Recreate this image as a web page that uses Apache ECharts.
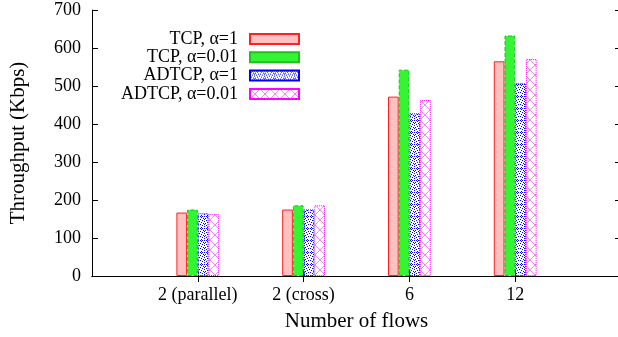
<!DOCTYPE html>
<html>
<head>
<meta charset="utf-8">
<script src="https://cdn.jsdelivr.net/npm/echarts@6/dist/echarts.min.js"></script>
<style>html,body{margin:0;padding:0;background:#fff}#c{width:618px;height:337px}</style>
</head>
<body>
<div id="c"></div>
<script>
var categories = ['2 (parallel)', '2 (cross)', '6', '12'];
var seriesNames = ['TCP, \u03b1=1', 'TCP, \u03b1=0.01', 'ADTCP, \u03b1=1', 'ADTCP, \u03b1=0.01'];
var tcp1 = [167, 175, 472, 565];
var tcp001 = [175, 186, 543, 633];
var adtcp1 = [165, 175, 428, 507];
var adtcp001 = [163, 186, 463, 571];
var yTicks = [0, 100, 200, 300, 400, 500, 600, 700];

var FONT = 'Liberation Serif';

function bluePattern() {
  var c = document.createElement('canvas'); c.width = 10; c.height = 12;
  var g = c.getContext('2d');
  g.fillStyle = '#fff'; g.fillRect(0, 0, 10, 12);
  g.fillStyle = '#0000ff';
  var pts = [[0,0],[2,0],[4,0],[6,0],[8,0],[1,1],[7,1],[3,2],[5,2],[0,3],[8,3],[2,4],[6,4],[4,5],[1,6],[7,6],[3,7],[5,7],[0,8],[8,8],[2,9],[6,9],[4,10],[1,11],[7,11],[4,3],[4,8],[9,5]];
  pts.forEach(function(p){ g.fillRect(p[0], p[1], 1, 1); });
  return c;
}
function magentaPattern() {
  var c = document.createElement('canvas'); c.width = 10; c.height = 10;
  var g = c.getContext('2d');
  g.fillStyle = '#fff'; g.fillRect(0, 0, 10, 10);
  g.strokeStyle = '#ff80ff'; g.lineWidth = 1;
  g.beginPath(); g.moveTo(0, 0); g.lineTo(10, 10); g.moveTo(10, 0); g.lineTo(0, 10); g.stroke();
  return c;
}

var padded = function(arr){ return [null].concat(arr, [null]); };
var axisCats = [''].concat(categories, ['']);
var tickFn = function(i){ return i > 0 && i < axisCats.length - 1; };

var styles = [
  {color: '#ffc0c0', borderColor: '#ff2020', borderWidth: 1, borderType: 'solid'},
  {color: '#33f533', borderColor: '#20c020', borderWidth: 1, borderType: 'dashed'},
  {color: {image: bluePattern(), repeat: 'repeat'}, borderColor: '#0000ff', borderWidth: 1, borderType: 'dotted'},
  {color: {image: magentaPattern(), repeat: 'repeat'}, borderColor: '#ff00ff', borderWidth: 1, borderType: 'dotted'}
];
var datasets = [tcp1, tcp001, adtcp1, adtcp001];

var chart = echarts.init(document.getElementById('c'), null, {renderer: 'canvas'});
chart.setOption({
  animation: false,
  grid: {left: 92, width: 529, top: 10, height: 266, containLabel: false, outerBoundsMode: 'none'},
  legend: {
    orient: 'vertical', align: 'right', left: 'auto', right: 318, top: 30, itemGap: 0.3, padding: 0,
    itemWidth: 49, itemHeight: 10, icon: 'rect',
    textStyle: {fontFamily: FONT, fontSize: 18, color: '#000', padding: [0, 7, 0, 0]},
    data: seriesNames
  },
  xAxis: [{
    type: 'category', data: axisCats, boundaryGap: false,
    axisLine: {lineStyle: {color: '#000', width: 1}},
    axisTick: {inside: true, length: 6, interval: function(i){return tickFn(i);}, lineStyle: {color: '#000'}},
    axisLabel: {fontFamily: FONT, fontSize: 18, color: '#000', margin: 10, interval: 0},
    name: 'Number of flows', nameLocation: 'middle', nameGap: 35,
    nameTextStyle: {fontFamily: FONT, fontSize: 21, color: '#000'}
  }, {
    type: 'category', data: axisCats, boundaryGap: false, position: 'top',
    axisLine: {lineStyle: {color: '#000', width: 1}},
    axisTick: {inside: true, length: 6, interval: function(i){return tickFn(i);}, lineStyle: {color: '#000'}},
    axisLabel: {show: false}
  }],
  yAxis: [{
    type: 'value', min: yTicks[0], max: yTicks[yTicks.length-1], interval: yTicks[1]-yTicks[0],
    splitLine: {show: false},
    axisLine: {show: true, lineStyle: {color: '#000', width: 1}},
    axisTick: {show: true, inside: true, length: 6, lineStyle: {color: '#000'}},
    axisLabel: {fontFamily: FONT, fontSize: 18, color: '#000', margin: 11},
    name: 'Throughput (Kbps)', nameLocation: 'middle', nameGap: 63,
    nameTextStyle: {fontFamily: FONT, fontSize: 21, color: '#000'}
  }, {
    type: 'value', position: 'right', min: yTicks[0], max: yTicks[yTicks.length-1], interval: yTicks[1]-yTicks[0],
    splitLine: {show: false},
    axisLine: {show: true, lineStyle: {color: '#000', width: 1}},
    axisTick: {show: true, inside: true, length: 6, lineStyle: {color: '#000'}},
    axisLabel: {show: false}
  }],
  series: datasets.map(function(d, i){
    return {
      name: seriesNames[i], type: 'bar', xAxisIndex: 0, yAxisIndex: 0,
      barWidth: 10.7, barGap: '0%',
      itemStyle: styles[i],
      data: padded(d)
    };
  })
});
</script>
</body>
</html>
